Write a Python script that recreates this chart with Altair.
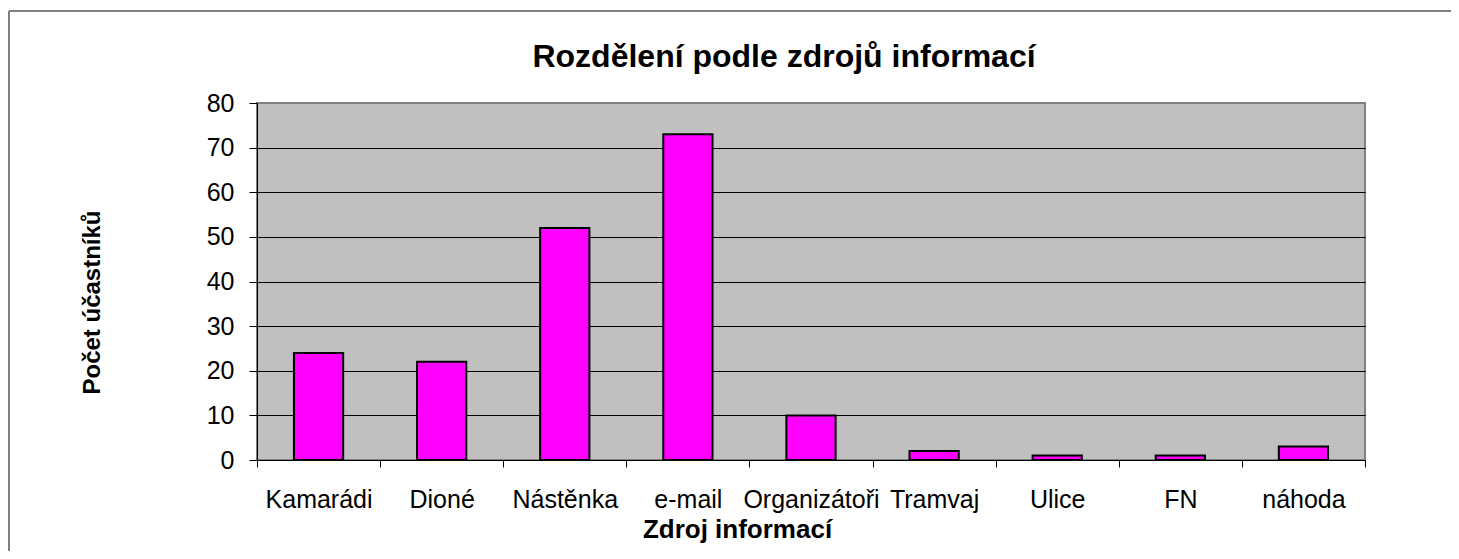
import altair as alt
import pandas as pd

categories = ["Kamarádi", "Dioné", "Nástěnka", "e-mail", "Organizátoři", "Tramvaj", "Ulice", "FN", "náhoda"]
values = [24, 22, 52, 73, 10, 2, 1, 1, 3]
y_ticks = [0, 10, 20, 30, 40, 50, 60, 70, 80]

df = pd.DataFrame({"zdroj": categories, "pocet": values})

FONT = "Liberation Sans, Arial, sans-serif"

bars = alt.Chart(df).mark_bar(
    width=alt.RelativeBandSize(0.4), fill="#FF00FF", stroke="black", strokeWidth=2
).encode(
    x=alt.X("zdroj:N", sort=categories,
            scale=alt.Scale(paddingInner=0, paddingOuter=0),
            axis=alt.Axis(title="Zdroj informací", labelAngle=0, tickBand="extent",
                          tickSize=7, tickColor="black", domainColor="black",
                          labelPadding=20, labelFontSize=25, labelFont=FONT, labelColor="black",
                          titleFont=FONT, titleFontSize=26, titleFontWeight="bold", titleColor="black",
                          titleX=480, titleY=77, titleAlign="center", titleBaseline="alphabetic",
                          grid=False)),
    y=alt.Y("pocet:Q",
            scale=alt.Scale(domain=[0, 80], nice=False),
            axis=alt.Axis(title="Počet účastníků", values=y_ticks,
                          tickSize=8, tickColor="black", domainColor="black",
                          labelPadding=15, labelFontSize=25, labelFont=FONT, labelColor="black",
                          titleFont=FONT, titleFontSize=24, titleFontWeight="bold", titleColor="black",
                          titleX=-165, titleY=199, titleAlign="center", titleBaseline="middle",
                          grid=True,
                          gridColor={"expr": "datum.value == 80 ? '#808080' : 'black'"},
                          gridWidth=1, gridOpacity=1)),
)

frame_top = alt.Chart(df).mark_rule(stroke="#808080", strokeWidth=2, clip=False).encode(
    x=alt.value(-248), x2=alt.value(1260), y=alt.value(-92)
)
frame_left = alt.Chart(df).mark_rule(stroke="#808080", strokeWidth=2, clip=False).encode(
    x=alt.value(-248), y=alt.value(-92), y2=alt.value(520)
)

chart = alt.layer(frame_top, frame_left, bars).properties(
    width=1108, height=357,
    background="white",
    autosize=alt.AutoSizeParams(type="none"),
    padding={"left": 249, "top": 95, "right": 86, "bottom": 91},
    title=alt.TitleParams("Rozdělení podle zdrojů informací", font=FONT, fontSize=32,
                          fontWeight="bold", color="black", anchor="middle", dx=-27,
                          offset=-89, baseline="alphabetic"),
).configure_view(
    fill="#C0C0C0", stroke="#808080", strokeWidth=2
)

chart.save("out.html", embed_options={"renderer": "svg", "actions": False})
